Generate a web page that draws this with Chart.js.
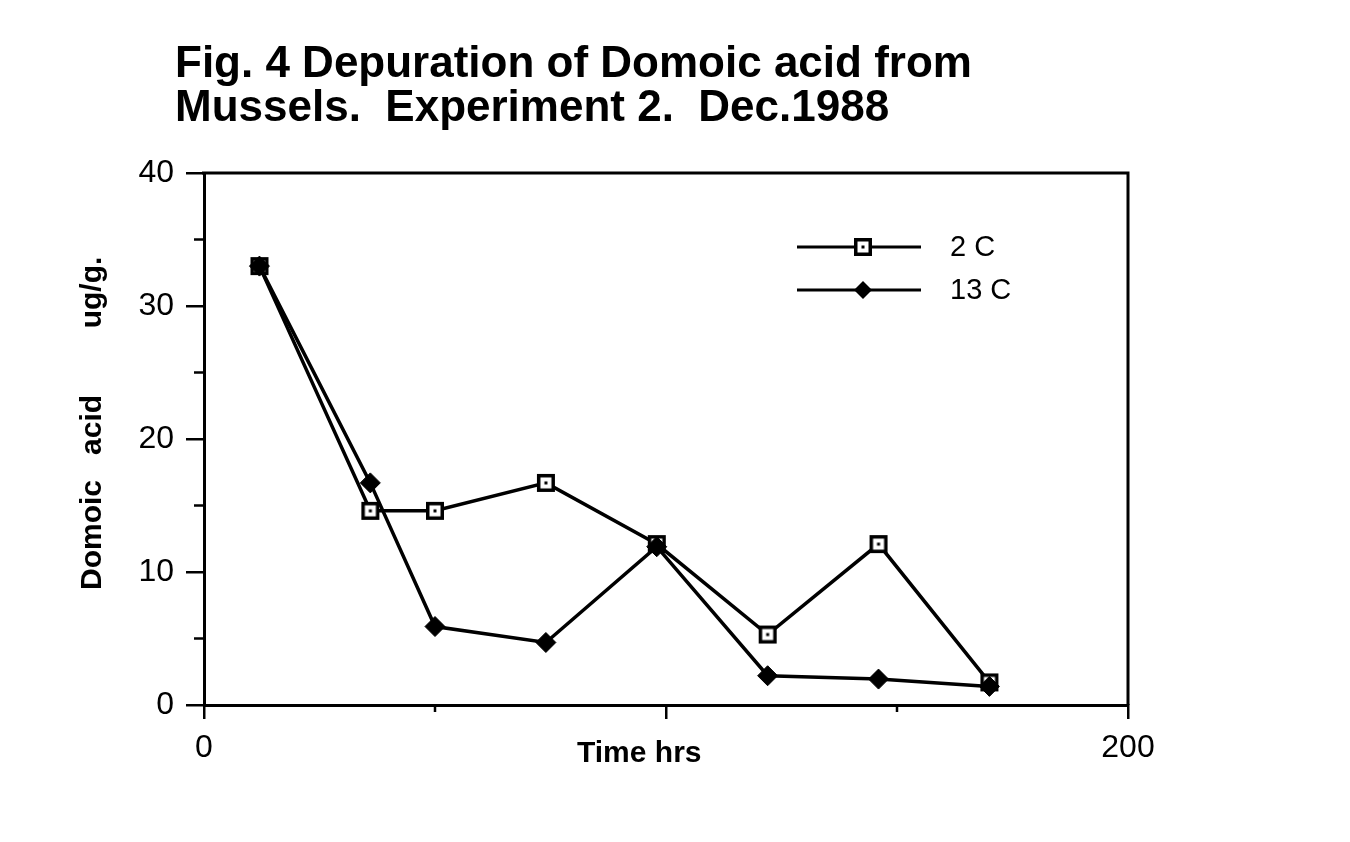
<!DOCTYPE html>
<html>
<head>
<meta charset="utf-8">
<script src="https://cdn.jsdelivr.net/npm/chart.js"></script>
<style>
  body { margin: 0; background: #fff; }
  #wrap { position: relative; width: 1350px; height: 842px; }
  #title {
    position: absolute; left: 175px; top: 40px; margin: 0;
    font: bold 44px/44px "Liberation Sans", Arial, sans-serif; color: #000;
  }
  canvas { position: absolute; left: 0; top: 0; }
</style>
</head>
<body>
<div id="wrap">
  <canvas id="depChart" width="1350" height="842"></canvas>
  <div id="title">Fig. 4 Depuration of Domoic acid from<br>Mussels.&nbsp; Experiment 2.&nbsp; Dec.1988</div>
</div>
<script>
// hours after start
let hours = [12, 36, 50, 74, 98, 122, 146, 170];
// domoic acid ug/g
let cold2 = [33.0, 14.6, 14.6, 16.7, 12.1, 5.3, 12.1, 1.7];
let warm13 = [33.0, 16.7, 5.9, 4.7, 11.9, 2.2, 1.95, 1.4];
let seriesNames = ['2 C', '13 C'];
let yTicks = [0, 10, 20, 30, 40];
let xTicks = [0, 200];

const FONT = '"Liberation Sans", Arial, sans-serif';

// open square with a dot in the middle
function makeSquare() {
  const c = document.createElement('canvas');
  c.width = 20; c.height = 20;
  const g = c.getContext('2d');
  g.fillStyle = '#fff';
  g.fillRect(1, 1, 18, 18);
  g.strokeStyle = '#000';
  g.lineWidth = 3.5;
  g.strokeRect(2.75, 2.75, 14.5, 14.5);
  g.fillStyle = '#000';
  g.fillRect(8.5, 8.5, 3, 3);
  return c;
}
const squareImg = makeSquare();

function toXY(xs, ys) {
  let out = [];
  for (let i = 0; i < xs.length; i++) out.push({x: xs[i], y: ys[i]});
  return out;
}

function drawDiamond(ctx, x, y, r) {
  ctx.beginPath();
  ctx.moveTo(x - r, y);
  ctx.lineTo(x, y - r);
  ctx.lineTo(x + r, y);
  ctx.lineTo(x, y + r);
  ctx.closePath();
  ctx.fill();
}

// frame, minor ticks, axis titles and legend
const extras = {
  id: 'extras',
  afterDraw(chart) {
    const ctx = chart.ctx;
    const a = chart.chartArea;
    const xs = chart.scales.x, ys = chart.scales.y;
    ctx.save();
    ctx.strokeStyle = '#000';
    ctx.lineWidth = 3;
    ctx.beginPath();
    ctx.moveTo(a.left - 2, a.top);
    ctx.lineTo(a.right, a.top);
    ctx.lineTo(a.right, a.bottom);
    ctx.stroke();

    ctx.lineWidth = 2.5;
    [5, 15, 25, 35].forEach(function(v) {
      const py = ys.getPixelForValue(v);
      ctx.beginPath(); ctx.moveTo(a.left - 10, py); ctx.lineTo(a.left, py); ctx.stroke();
    });
    [50, 150].forEach(function(v) {
      const px = xs.getPixelForValue(v);
      ctx.beginPath(); ctx.moveTo(px, a.bottom); ctx.lineTo(px, a.bottom + 7); ctx.stroke();
    });

    ctx.fillStyle = '#000';
    ctx.font = 'bold 30px ' + FONT;
    ctx.textBaseline = 'alphabetic';
    ctx.textAlign = 'left';
    ctx.fillText('Time hrs', 577, 762);

    ctx.save();
    ctx.translate(101, 590);
    ctx.rotate(-Math.PI / 2);
    ctx.fillText('Domoic   acid        ug/g.', 0, 0);
    ctx.restore();

    // legend
    ctx.font = '29px ' + FONT;
    ctx.textBaseline = 'middle';
    chart.data.datasets.forEach(function(ds, i) {
      const ly = 247 + i * 43;
      ctx.lineWidth = 3;
      ctx.beginPath(); ctx.moveTo(797, ly); ctx.lineTo(921, ly); ctx.stroke();
      if (i === 0) ctx.drawImage(squareImg, 863 - 10, ly - 10);
      else drawDiamond(ctx, 863, ly, 9);
      ctx.fillText(ds.label, 950, ly + 1);
    });
    ctx.restore();
  }
};

new Chart(document.getElementById('depChart').getContext('2d'), {
  type: 'line',
  data: {
    datasets: [{
      label: seriesNames[0],
      data: toXY(hours, cold2),
      borderColor: '#000',
      borderWidth: 3.5,
      pointStyle: squareImg,
      tension: 0,
      order: 2
    }, {
      label: seriesNames[1],
      data: toXY(hours, warm13),
      borderColor: '#000',
      backgroundColor: '#000',
      borderWidth: 3.5,
      pointStyle: 'rectRot',
      pointRadius: 10,
      pointBorderWidth: 1,
      tension: 0,
      order: 1
    }]
  },
  options: {
    responsive: false,
    animation: false,
    devicePixelRatio: 1,
    events: [],
    layout: { padding: { left: 0, top: 173, right: 222, bottom: 0 } },
    plugins: {
      legend: { display: false },
      title: { display: false },
      tooltip: { enabled: false }
    },
    scales: {
      x: {
        type: 'linear',
        min: 0, max: 200,
        afterFit: function(s) { s.height = 137; },
        afterBuildTicks: function(s) { s.ticks = [0, 100, 200].map(function(v) { return {value: v}; }); },
        border: { display: true, color: '#000', width: 3 },
        grid: { drawOnChartArea: false, tickLength: 14, color: '#000', lineWidth: 2.5 },
        ticks: {
          color: '#000', padding: 10, maxRotation: 0,
          font: { family: FONT, size: 32 },
          callback: function(v) { return xTicks.indexOf(v) >= 0 ? String(v) : ''; }
        }
      },
      y: {
        min: 0, max: 40,
        afterFit: function(s) { s.width = 204; },
        afterBuildTicks: function(s) { s.ticks = yTicks.map(function(v) { return {value: v}; }); },
        border: { display: true, color: '#000', width: 3 },
        grid: { drawOnChartArea: false, tickLength: 18, color: '#000', lineWidth: 2.5 },
        ticks: {
          color: '#000', padding: 12,
          font: { family: FONT, size: 32 }
        }
      }
    }
  },
  plugins: [extras]
});
</script>
</body>
</html>
